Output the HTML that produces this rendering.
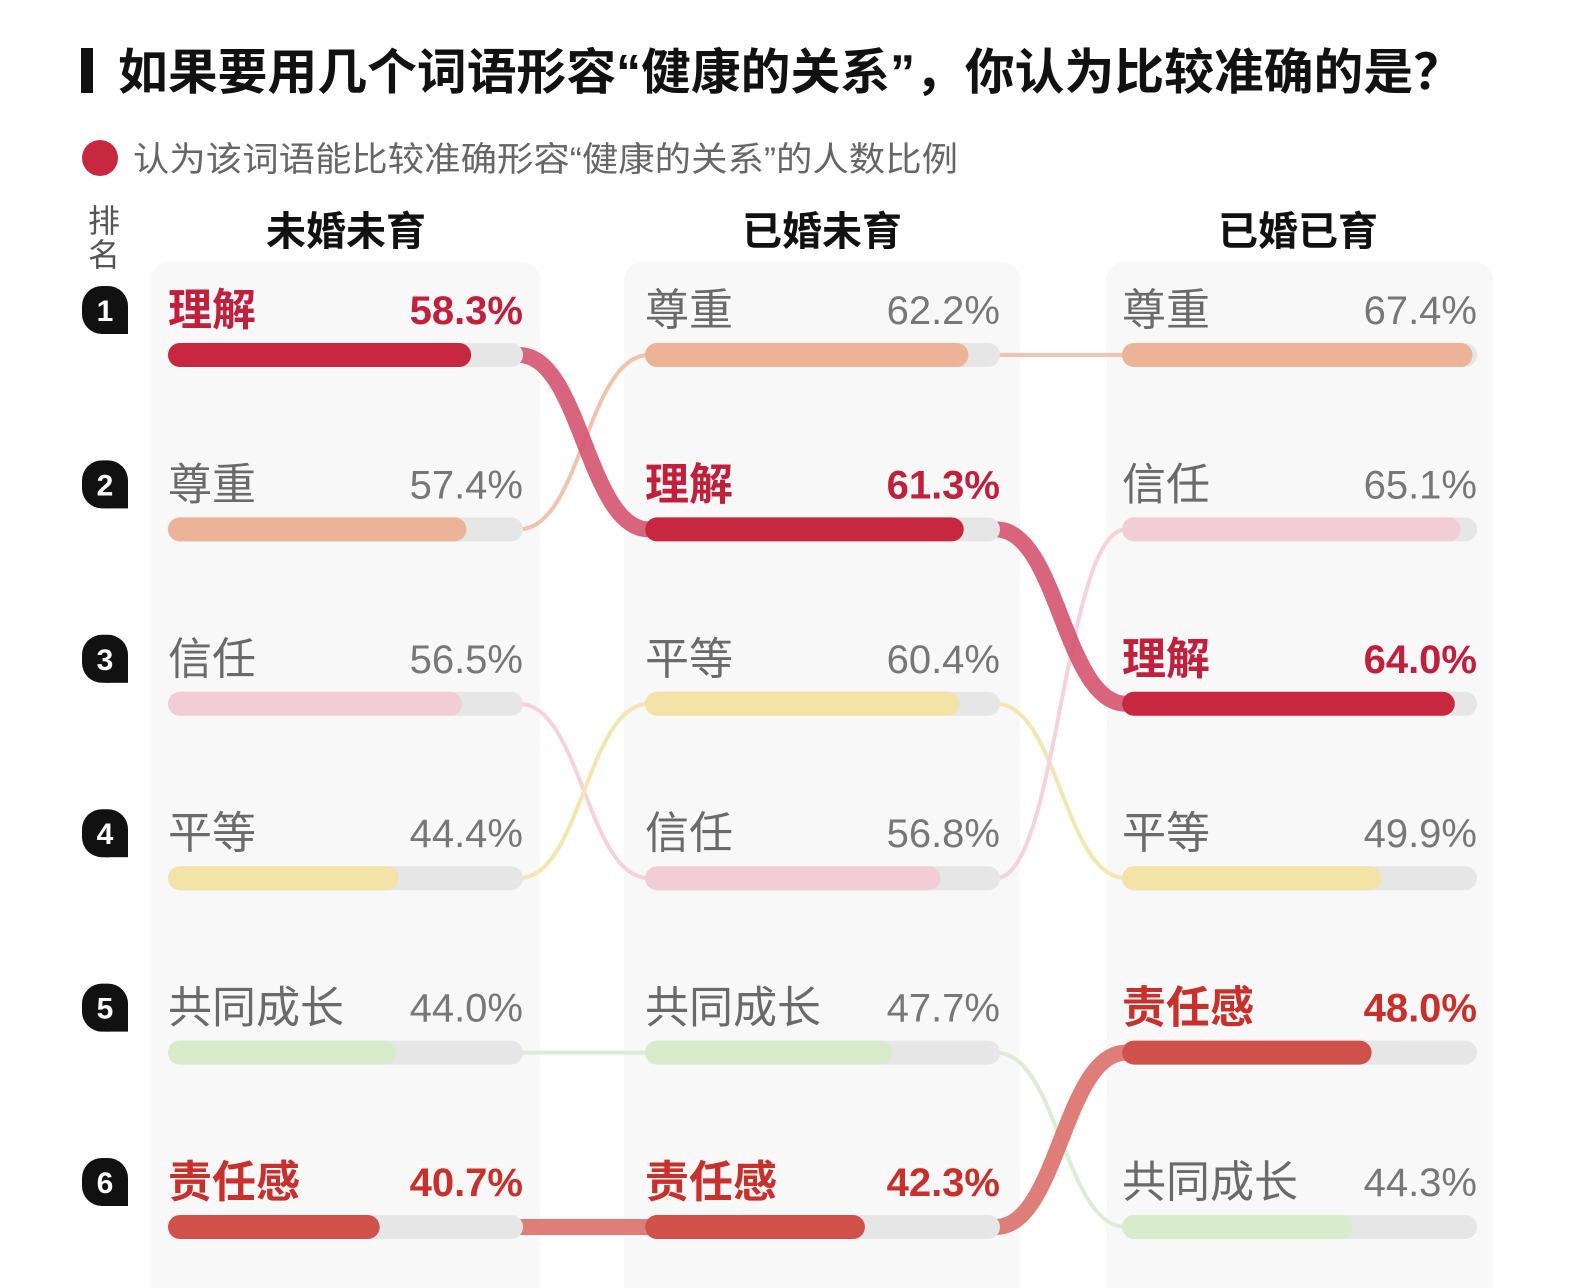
<!DOCTYPE html>
<html><head><meta charset="utf-8"><style>
html,body{margin:0;padding:0;background:#fff;}
svg{display:block;}
text{font-family:"Liberation Sans","Noto Sans CJK SC",sans-serif;}
</style></head><body>
<svg width="1590" height="1288" viewBox="0 0 1590 1288" xmlns="http://www.w3.org/2000/svg">
<rect width="1590" height="1288" fill="#fff"/>
<rect x="81" y="48" width="12" height="45" fill="#111"/>
<text x="118" y="89" font-size="49" font-weight="bold" fill="#111" textLength="1345" lengthAdjust="spacingAndGlyphs">如果要用几个词语形容“健康的关系”，你认为比较准确的是？</text>
<circle cx="100" cy="158" r="18" fill="#c8283f"/>
<text x="133" y="171" font-size="34" fill="#666" textLength="825" lengthAdjust="spacingAndGlyphs">认为该词语能比较准确形容“健康的关系”的人数比例</text>
<text x="88" y="232" font-size="32" fill="#555">排</text>
<text x="88" y="266" font-size="32" fill="#555">名</text>
<text x="346" y="245" font-size="40" font-weight="bold" fill="#111" text-anchor="middle">未婚未育</text>
<text x="822" y="245" font-size="40" font-weight="bold" fill="#111" text-anchor="middle">已婚未育</text>
<text x="1298" y="245" font-size="40" font-weight="bold" fill="#111" text-anchor="middle">已婚已育</text>
<rect x="151" y="262" width="389" height="1060" rx="18" fill="#f8f8f8"/>
<rect x="624" y="262" width="396" height="1060" rx="18" fill="#f8f8f8"/>
<rect x="1106" y="262" width="387" height="1060" rx="18" fill="#f8f8f8"/>
<g id="links" fill="none" stroke-linecap="butt"></g>
<g id="bars"></g>
<g id="badges"></g>
</svg>
<script>
var NS="http://www.w3.org/2000/svg";
function el(t,a,p,txt){var e=document.createElementNS(NS,t);for(var k in a)e.setAttribute(k,a[k]);if(txt!==undefined)e.textContent=txt;p.appendChild(e);return e;}
var X=[168,645,1122],L=355,S=5.2;
function Y(i){return 355+174.4*i;}
var col={"理解":"#c8283f","尊重":"#edb398","信任":"#f2cdd7","平等":"#f3e3a6","共同成长":"#d8ebcc","责任感":"#d0504a"};
var lk={"理解":"#d4536f","尊重":"#f0c3ad","信任":"#f4d3dc","平等":"#f3e6b0","共同成长":"#dcedd2","责任感":"#dc6f6a"};
var hc={"理解":"#c0203c","责任感":"#c8302c"};
var data=[
[["理解",58.3],["尊重",57.4],["信任",56.5],["平等",44.4],["共同成长",44.0],["责任感",40.7]],
[["尊重",62.2],["理解",61.3],["平等",60.4],["信任",56.8],["共同成长",47.7],["责任感",42.3]],
[["尊重",67.4],["信任",65.1],["理解",64.0],["平等",49.9],["责任感",48.0],["共同成长",44.3]]];
var links=document.getElementById("links"),bars=document.getElementById("bars"),badges=document.getElementById("badges");
for(var pass=0;pass<2;pass++){
for(var c=0;c<2;c++){data[c].forEach(function(d,i){
  var h=!!hc[d[0]]; if((pass==1)!=h)return;
  var j=data[c+1].findIndex(function(e){return e[0]==d[0];});
  var x1=X[c]+L-4,x2=X[c+1]+4,y1=Y(i),y2=Y(j);
  el("path",{d:"M"+x1+","+y1+" C"+(x1+62)+","+y1+" "+(x2-62)+","+y2+" "+x2+","+y2,stroke:lk[d[0]],"stroke-width":h?16:4,opacity:h?0.9:1},links);
});}}
data.forEach(function(cd,c){cd.forEach(function(d,i){
  var y=Y(i),h=!!hc[d[0]],x=X[c];
  el("rect",{x:x,y:y-12,width:L,height:24,rx:12,fill:"#e6e6e6"},bars);
  el("rect",{x:x,y:y-12,width:d[1]*S,height:24,rx:12,fill:col[d[0]]},bars);
  el("text",{x:x,y:y-30,"font-size":44,"font-weight":h?"bold":"normal",fill:h?hc[d[0]]:"#6a6a6a"},bars,d[0]);
  el("text",{x:x+L,y:y-31,"font-size":40,"font-weight":h?"bold":"normal",fill:h?hc[d[0]]:"#777","text-anchor":"end"},bars,d[1].toFixed(1)+"%");
});});
for(var i=0;i<6;i++){var cy=Y(i)-45;
  el("rect",{x:82,y:cy-24,width:46,height:48,rx:20,fill:"#111"},badges);
  el("rect",{x:105,y:cy,width:23,height:24,fill:"#111"},badges);
  el("text",{x:105,y:cy+11,"font-size":30,"font-weight":"bold",fill:"#fff","text-anchor":"middle"},badges,String(i+1));
}
</script>
</body></html>
